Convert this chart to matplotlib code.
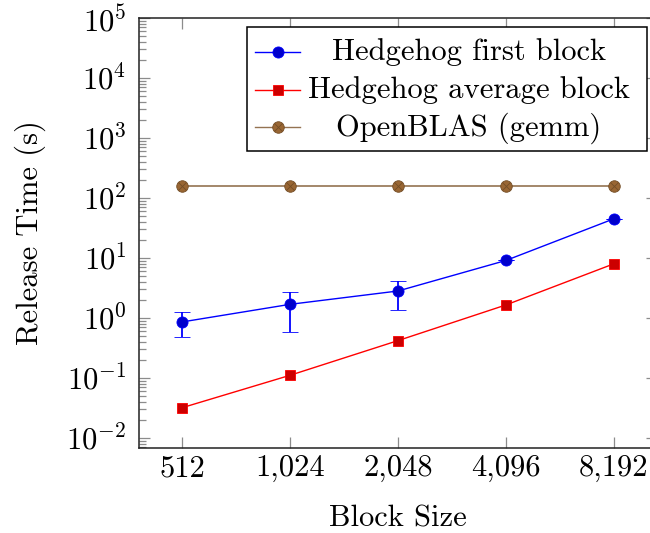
import matplotlib
matplotlib.use("Agg")
import matplotlib.pyplot as plt
from matplotlib.lines import Line2D
from matplotlib.patches import Rectangle
from matplotlib.ticker import FixedLocator, FixedFormatter, LogLocator, NullFormatter, NullLocator

# ---- data ----
block_sizes = [512, 1024, 2048, 4096, 8192]
block_labels = ["512", "1,024", "2,048", "4,096", "8,192"]

first_block = [0.86, 1.69, 2.82, 9.1, 45.0]
first_err_low = [0.38, 1.10, 1.45, 0.0, 0.0]
first_err_high = [0.41, 1.02, 1.37, 0.0, 0.0]

average_block = [0.032, 0.111, 0.42, 1.65, 8.0]
openblas = [160.0, 160.0, 160.0, 160.0, 160.0]

series_labels = ["Hedgehog first block", "Hedgehog average block", "OpenBLAS (gemm)"]

# ---- style ----
plt.rcParams["font.family"] = ["cmr10", "DejaVu Serif"]
plt.rcParams["mathtext.fontset"] = "cm"
plt.rcParams["axes.formatter.use_mathtext"] = True
FS = 22

blue_line, blue_fill = (0, 0, 1), (0, 0, 0.8)
red_line, red_fill = (1, 0, 0), (0.8, 0, 0)
brown_line, brown_fill = (0.58, 0.45, 0.32), (0.6, 0.4, 0.2)
brown_edge = (0.45, 0.3, 0.15)

fig = plt.figure(figsize=(6.5, 5.33), dpi=100)
W, H = 650, 533
ax_left, ax_right, ax_top, ax_bottom = 139, 657, 18, 448
ax = fig.add_axes([ax_left / W, (H - ax_bottom) / H,
                   (ax_right - ax_left) / W, (ax_bottom - ax_top) / H])

ax.set_xscale("log", base=2)
ax.set_yscale("log")
ax.set_xlim(512 / 2 ** 0.4, 8192 * 2 ** 0.4)
ax.set_ylim(10 ** (-2 - 10 / 60), 1e5)

lw = 1.0
ax.errorbar(block_sizes, first_block, yerr=[first_err_low, first_err_high],
            color=blue_line, lw=lw, marker="o", ms=8, mfc=blue_fill, mec=blue_line,
            mew=0.6, ecolor=blue_line, elinewidth=1.3, capsize=5.5, capthick=1.3, zorder=3)
ax.plot(block_sizes, average_block, color=red_line, lw=lw, marker="s", ms=7.8,
        mfc=red_fill, mec=red_line, mew=0.6, zorder=3)
ax.plot(block_sizes, openblas, color=brown_line, lw=1.2, marker="o", ms=8.3,
        mfc=brown_fill, mec=brown_edge, mew=0.6, zorder=3)
ax.plot(block_sizes, openblas, ls="none", marker="x", ms=5.2,
        mec=brown_edge, mew=0.6, zorder=4)

# ---- axes ----
ax.xaxis.set_major_locator(FixedLocator(block_sizes))
ax.xaxis.set_major_formatter(FixedFormatter(block_labels))
ax.xaxis.set_minor_locator(NullLocator())
ax.yaxis.set_major_locator(LogLocator(base=10, numticks=20))
ax.yaxis.set_minor_locator(LogLocator(base=10, subs=range(2, 10), numticks=20))
ax.yaxis.set_minor_formatter(NullFormatter())
ax.xaxis.get_offset_text().set_visible(False)
ax.yaxis.get_offset_text().set_visible(False)

ax.tick_params(which="both", direction="in", top=True, right=True,
               color="#8c8c8c", width=0.9, labelsize=FS)
ax.tick_params(which="major", length=8)
ax.tick_params(which="minor", length=5.2)
ax.tick_params(axis="x", pad=5)
ax.tick_params(axis="y", pad=9)
for sp in ax.spines.values():
    sp.set_linewidth(1.1)
    sp.set_color("#222222")

ax.set_xlabel("Block Size", fontsize=FS, va="center")
ax.set_ylabel("Release Time (s)", fontsize=FS, va="center", ha="center")
ax.xaxis.set_label_coords(0.5, (ax_bottom - 519) / (ax_bottom - ax_top))
ax.yaxis.set_label_coords((30 - ax_left) / (ax_right - ax_left), 0.5)

# ---- legend with centred entries ----
def px_x(x):
    return (x - ax_left) / (ax_right - ax_left)

def px_y(y):
    return (ax_bottom - y) / (ax_bottom - ax_top)

bx0, bx1 = px_x(247), 0.98
by0, by1 = px_y(150.7), 0.98
ax.add_patch(Rectangle((bx0, by0), bx1 - bx0, by1 - by0, transform=ax.transAxes,
                       fill=True, fc="white", ec="black", lw=1.1, zorder=5))
row_y = [52, 89.5, 127]
styles = [
    dict(color=blue_line, marker="o", ms=8, mfc=blue_fill, mec=blue_line),
    dict(color=red_line, marker="s", ms=7.8, mfc=red_fill, mec=red_line),
    dict(color=brown_line, marker="o", ms=8.3, mfc=brown_fill, mec=brown_edge),
]
for label, yy, st in zip(series_labels, row_y, styles):
    ly = px_y(yy)
    ax.add_line(Line2D([px_x(255), px_x(300)], [ly, ly], transform=ax.transAxes,
                       lw=lw, zorder=6, color=st["color"]))
    ax.add_line(Line2D([px_x(277.5)], [ly], transform=ax.transAxes, ls="none",
                       marker=st["marker"], ms=st["ms"], mfc=st["mfc"], mec=st["mec"],
                       mew=0.6, zorder=7))
    ax.text(px_x(469), px_y(yy + 8.5), label, transform=ax.transAxes, ha="center",
            va="baseline", fontsize=FS, zorder=7)
ax.add_line(Line2D([px_x(277.5)], [px_y(row_y[2])], transform=ax.transAxes, ls="none",
                   marker="x", ms=5.2, mec=brown_edge, mew=0.6, zorder=8))

fig.savefig("out.png", dpi=100)
